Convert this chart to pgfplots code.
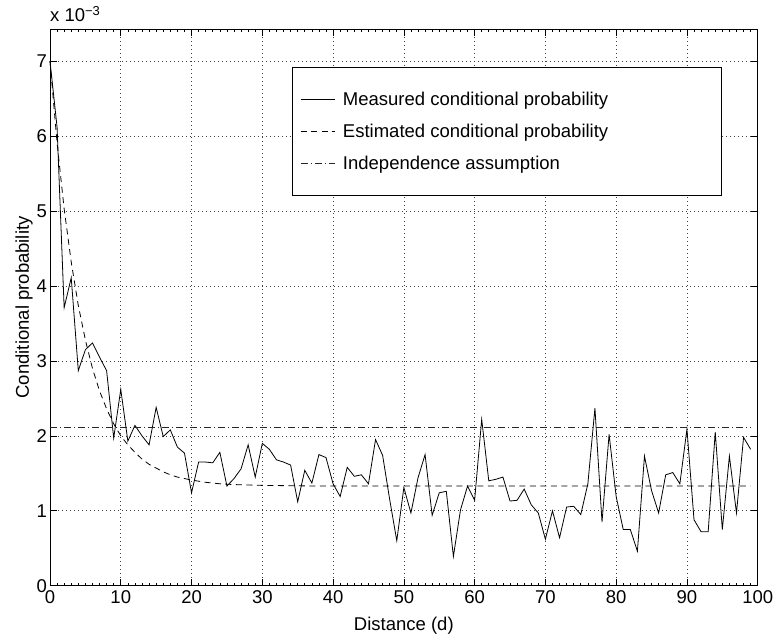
\documentclass[border=0pt]{standalone}
\usepackage{fontspec}
\setmainfont{Liberation Sans}
\usepackage{pgfplots}
\pgfplotsset{compat=1.18}

% measured conditional probability (units of 1e-3)
\pgfplotstableread{
d p
0 7.00
1 6.12
2 3.71
3 4.11
4 2.87
5 3.15
6 3.24
7 3.05
8 2.87
9 1.97
10 2.62
11 1.93
12 2.14
13 2.00
14 1.88
15 2.38
16 1.99
17 2.08
18 1.85
19 1.77
20 1.24
21 1.65
22 1.65
23 1.64
24 1.78
25 1.33
26 1.43
27 1.56
28 1.88
29 1.45
30 1.90
31 1.82
32 1.68
33 1.65
34 1.61
35 1.12
36 1.54
37 1.37
38 1.75
39 1.71
40 1.36
41 1.19
42 1.58
43 1.46
44 1.48
45 1.36
46 1.95
47 1.74
48 1.15
49 0.60
50 1.31
51 0.97
52 1.44
53 1.75
54 0.94
55 1.24
56 1.26
57 0.39
58 1.01
59 1.33
60 1.14
61 2.22
62 1.40
63 1.42
64 1.45
65 1.13
66 1.14
67 1.29
68 1.08
69 0.97
70 0.62
71 1.00
72 0.64
73 1.05
74 1.06
75 0.95
76 1.36
77 2.37
78 0.85
79 2.02
80 1.19
81 0.75
82 0.75
83 0.46
84 1.73
85 1.27
86 0.97
87 1.48
88 1.51
89 1.36
90 2.09
91 0.88
92 0.72
93 0.72
94 2.05
95 0.75
96 1.73
97 0.97
98 1.98
99 1.82
}\measured

% estimated conditional probability
\pgfplotstableread{
d p
0 7.00
1 5.91
2 5.03
3 4.32
4 3.74
5 3.28
6 2.90
7 2.60
8 2.36
9 2.16
10 2.00
11 1.88
12 1.78
13 1.69
14 1.62
15 1.57
16 1.52
17 1.48
18 1.45
19 1.43
20 1.41
22 1.38
24 1.36
26 1.35
28 1.344
30 1.339
35 1.333
40 1.33
60 1.33
80 1.33
99 1.33
}\estimated

\begin{document}
\begin{tikzpicture}[font=\fontsize{18.5}{22}\selectfont]
\useasboundingbox (-50pt,-52.3pt) rectangle (725pt,585.7pt);
\begin{axis}[
    at={(0,0)}, anchor=south west,
    scale only axis,
    width=707.7pt, height=556.7pt,
    xmin=0, xmax=100, ymin=0, ymax=7.43,
    xtick={0,10,...,100}, ytick={0,1,...,7},
    minor x tick num=9,
    tick align=inside,
    xtick pos=both, ytick pos=both,
    major tick length=7pt, minor tick length=3pt,
    every tick/.style={black, line width=0.6pt},
    /pgf/number format/assume math mode=true,
    xticklabel style={yshift=-1pt},
    yticklabel style={xshift=0.5pt},
    grid=major,
    major grid style={black!75, line width=0.6pt, dash pattern=on 0.8pt off 3.2pt},
    axis line style={black, line width=0.9pt},
    clip=false,
    xlabel={Distance (d)},
    ylabel={Conditional probability},
    every axis x label/.style={at={(axis description cs:0.5,-0.0719)}, anchor=center},
    every axis y label/.style={at={(axis description cs:-0.0367,0.5)}, anchor=center, rotate=90},
    legend cell align=left,
    legend image code/.code={\draw[#1] (0pt,0pt) -- (34pt,0pt);},
    legend style={at={(axis description cs:0.3424,0.9323)}, anchor=north west,
        draw=black, line width=0.9pt, inner xsep=7.7pt, inner ysep=24.5pt,
        row sep=17.5pt, column sep=7.7pt, nodes={inner sep=0pt, line width=0.8pt}},
]
\addplot[black, line width=0.8pt] table[x=d, y=p] {\measured};
\addlegendentry{\makebox[371pt][l]{Measured conditional probability}}
\addplot[black, line width=0.8pt, dash pattern=on 6pt off 4.5pt] table[x=d, y=p] {\estimated};
\addlegendentry{Estimated conditional probability}
\addplot[black!85, line width=0.8pt, dash pattern=on 7pt off 3pt on 1pt off 3pt] coordinates {(0,2.11) (99,2.11)};
\addlegendentry{Independence assumption}
\node[anchor=base west, inner sep=0pt] at ([yshift=7.3pt]rel axis cs:0,1) {x 10\textsuperscript{−3}};
\end{axis}
\end{tikzpicture}
\end{document}
